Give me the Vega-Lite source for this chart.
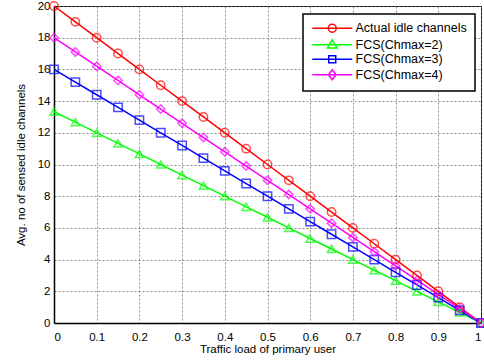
{
  "$schema": "https://vega.github.io/schema/vega-lite/v6.json",
  "width": 427,
  "height": 317,
  "autosize": "none",
  "padding": {"left": 54, "top": 6, "right": 3, "bottom": 40},
  "config": {
    "font": "Liberation Sans",
    "view": {"stroke": "black", "strokeWidth": 1},
    "axis": {
      "labelFont": "Liberation Sans",
      "titleFont": "Liberation Sans",
      "labelFontSize": 11.5,
      "titleFontSize": 11.5,
      "titleFontWeight": "normal",
      "labelColor": "black",
      "titleColor": "black",
      "domainColor": "black",
      "domainWidth": 1.5,
      "ticks": false,
      "gridColor": "#707070",
      "gridDash": [2, 2],
      "gridOpacity": 0.8
    }
  },
  "data": {
    "values": [
      {"x": 0, "s": "Actual idle channels", "y": 20},
      {"x": 0.05, "s": "Actual idle channels", "y": 19},
      {"x": 0.1, "s": "Actual idle channels", "y": 18},
      {"x": 0.15, "s": "Actual idle channels", "y": 17},
      {"x": 0.2, "s": "Actual idle channels", "y": 16},
      {"x": 0.25, "s": "Actual idle channels", "y": 15},
      {"x": 0.3, "s": "Actual idle channels", "y": 14},
      {"x": 0.35, "s": "Actual idle channels", "y": 13},
      {"x": 0.4, "s": "Actual idle channels", "y": 12},
      {"x": 0.45, "s": "Actual idle channels", "y": 11},
      {"x": 0.5, "s": "Actual idle channels", "y": 10},
      {"x": 0.55, "s": "Actual idle channels", "y": 9},
      {"x": 0.6, "s": "Actual idle channels", "y": 8},
      {"x": 0.65, "s": "Actual idle channels", "y": 7},
      {"x": 0.7, "s": "Actual idle channels", "y": 6},
      {"x": 0.75, "s": "Actual idle channels", "y": 5},
      {"x": 0.8, "s": "Actual idle channels", "y": 4},
      {"x": 0.85, "s": "Actual idle channels", "y": 3},
      {"x": 0.9, "s": "Actual idle channels", "y": 2},
      {"x": 0.95, "s": "Actual idle channels", "y": 1},
      {"x": 1, "s": "Actual idle channels", "y": 0},
      {"x": 0, "s": "FCS(Chmax=2)", "y": 13.33},
      {"x": 0.05, "s": "FCS(Chmax=2)", "y": 12.67},
      {"x": 0.1, "s": "FCS(Chmax=2)", "y": 12},
      {"x": 0.15, "s": "FCS(Chmax=2)", "y": 11.33},
      {"x": 0.2, "s": "FCS(Chmax=2)", "y": 10.67},
      {"x": 0.25, "s": "FCS(Chmax=2)", "y": 10},
      {"x": 0.3, "s": "FCS(Chmax=2)", "y": 9.33},
      {"x": 0.35, "s": "FCS(Chmax=2)", "y": 8.67},
      {"x": 0.4, "s": "FCS(Chmax=2)", "y": 8},
      {"x": 0.45, "s": "FCS(Chmax=2)", "y": 7.33},
      {"x": 0.5, "s": "FCS(Chmax=2)", "y": 6.67},
      {"x": 0.55, "s": "FCS(Chmax=2)", "y": 6},
      {"x": 0.6, "s": "FCS(Chmax=2)", "y": 5.33},
      {"x": 0.65, "s": "FCS(Chmax=2)", "y": 4.67},
      {"x": 0.7, "s": "FCS(Chmax=2)", "y": 4},
      {"x": 0.75, "s": "FCS(Chmax=2)", "y": 3.33},
      {"x": 0.8, "s": "FCS(Chmax=2)", "y": 2.67},
      {"x": 0.85, "s": "FCS(Chmax=2)", "y": 2},
      {"x": 0.9, "s": "FCS(Chmax=2)", "y": 1.33},
      {"x": 0.95, "s": "FCS(Chmax=2)", "y": 0.67},
      {"x": 1, "s": "FCS(Chmax=2)", "y": 0},
      {"x": 0, "s": "FCS(Chmax=3)", "y": 16},
      {"x": 0.05, "s": "FCS(Chmax=3)", "y": 15.2},
      {"x": 0.1, "s": "FCS(Chmax=3)", "y": 14.4},
      {"x": 0.15, "s": "FCS(Chmax=3)", "y": 13.6},
      {"x": 0.2, "s": "FCS(Chmax=3)", "y": 12.8},
      {"x": 0.25, "s": "FCS(Chmax=3)", "y": 12},
      {"x": 0.3, "s": "FCS(Chmax=3)", "y": 11.2},
      {"x": 0.35, "s": "FCS(Chmax=3)", "y": 10.4},
      {"x": 0.4, "s": "FCS(Chmax=3)", "y": 9.6},
      {"x": 0.45, "s": "FCS(Chmax=3)", "y": 8.8},
      {"x": 0.5, "s": "FCS(Chmax=3)", "y": 8},
      {"x": 0.55, "s": "FCS(Chmax=3)", "y": 7.2},
      {"x": 0.6, "s": "FCS(Chmax=3)", "y": 6.4},
      {"x": 0.65, "s": "FCS(Chmax=3)", "y": 5.6},
      {"x": 0.7, "s": "FCS(Chmax=3)", "y": 4.8},
      {"x": 0.75, "s": "FCS(Chmax=3)", "y": 4},
      {"x": 0.8, "s": "FCS(Chmax=3)", "y": 3.2},
      {"x": 0.85, "s": "FCS(Chmax=3)", "y": 2.4},
      {"x": 0.9, "s": "FCS(Chmax=3)", "y": 1.6},
      {"x": 0.95, "s": "FCS(Chmax=3)", "y": 0.8},
      {"x": 1, "s": "FCS(Chmax=3)", "y": 0},
      {"x": 0, "s": "FCS(Chmax=4)", "y": 18},
      {"x": 0.05, "s": "FCS(Chmax=4)", "y": 17.1},
      {"x": 0.1, "s": "FCS(Chmax=4)", "y": 16.2},
      {"x": 0.15, "s": "FCS(Chmax=4)", "y": 15.3},
      {"x": 0.2, "s": "FCS(Chmax=4)", "y": 14.4},
      {"x": 0.25, "s": "FCS(Chmax=4)", "y": 13.5},
      {"x": 0.3, "s": "FCS(Chmax=4)", "y": 12.6},
      {"x": 0.35, "s": "FCS(Chmax=4)", "y": 11.7},
      {"x": 0.4, "s": "FCS(Chmax=4)", "y": 10.8},
      {"x": 0.45, "s": "FCS(Chmax=4)", "y": 9.9},
      {"x": 0.5, "s": "FCS(Chmax=4)", "y": 9},
      {"x": 0.55, "s": "FCS(Chmax=4)", "y": 8.1},
      {"x": 0.6, "s": "FCS(Chmax=4)", "y": 7.2},
      {"x": 0.65, "s": "FCS(Chmax=4)", "y": 6.3},
      {"x": 0.7, "s": "FCS(Chmax=4)", "y": 5.4},
      {"x": 0.75, "s": "FCS(Chmax=4)", "y": 4.5},
      {"x": 0.8, "s": "FCS(Chmax=4)", "y": 3.6},
      {"x": 0.85, "s": "FCS(Chmax=4)", "y": 2.7},
      {"x": 0.9, "s": "FCS(Chmax=4)", "y": 1.8},
      {"x": 0.95, "s": "FCS(Chmax=4)", "y": 0.9},
      {"x": 1, "s": "FCS(Chmax=4)", "y": 0}
    ]
  },
  "encoding": {
    "x": {
      "field": "x", "type": "quantitative",
      "scale": {"domain": [0, 1], "nice": false},
      "axis": {"values": [0, 0.1, 0.2, 0.3, 0.4, 0.5, 0.6, 0.7, 0.8, 0.9, 1], "format": "~g", "title": "Traffic load of primary user", "titlePadding": 1, "labelPadding": 8}
    },
    "y": {
      "field": "y", "type": "quantitative",
      "scale": {"domain": [0, 20], "nice": false},
      "axis": {"values": [0, 2, 4, 6, 8, 10, 12, 14, 16, 18, 20], "title": "Avg. no of sensed idle channels", "titlePadding": 11, "labelPadding": 4}
    }
  },
  "layer": [
    {
      "mark": {"type": "line", "strokeWidth": 1.5},
      "encoding": {
        "color": {
          "field": "s", "type": "nominal",
          "scale": {
            "domain": ["Actual idle channels", "FCS(Chmax=2)", "FCS(Chmax=3)", "FCS(Chmax=4)"],
            "range": ["#ff0000", "#00ff00", "#0000ff", "#ff00ff"]
          },
          "legend": {
            "title": null,
            "orient": "none",
            "legendX": 249,
            "legendY": 8,
            "fillColor": "white",
            "strokeColor": "black",
            "padding": 8,
            "labelFontSize": 12.5,
            "labelFont": "Liberation Sans",
            "labelColor": "black",
            "symbolSize": 100,
            "symbolStrokeWidth": 1.5,
            "rowPadding": 0.5,
            "labelOffset": 32,
            "encode": {
              "legend": {"update": {"strokeWidth": {"value": 1.5}}},
              "symbols": {
                "update": {
                  "shape": {"signal": "datum.value === 'Actual idle channels' ? 'M-1,0L7,0M2.2,0A0.8,0.8 0 1,0 3.8,0A0.8,0.8 0 1,0 2.2,0' : datum.value === 'FCS(Chmax=2)' ? 'M-1,0L7,0M3,-1L3.95,0.65L2.05,0.65Z' : datum.value === 'FCS(Chmax=3)' ? 'M-1,0L7,0M2.3,-0.7L3.7,-0.7L3.7,0.7L2.3,0.7Z' : 'M-1,0L7,0M3,-1L3.75,0L3,1L2.25,0Z'"}
                }
              }
            }
          }
        }
      }
    },
    {
      "mark": {"type": "point", "filled": false, "size": 70, "strokeWidth": 1.5},
      "encoding": {
        "shape": {
          "condition": [
            {"test": "datum.s === 'FCS(Chmax=2)'", "value": "triangle-up"},
            {"test": "datum.s === 'FCS(Chmax=3)'", "value": "square"},
            {"test": "datum.s === 'FCS(Chmax=4)'", "value": "diamond"}
          ],
          "value": "circle"
        },
        "stroke": {
          "field": "s", "type": "nominal",
          "scale": {
            "domain": ["Actual idle channels", "FCS(Chmax=2)", "FCS(Chmax=3)", "FCS(Chmax=4)"],
            "range": ["#ff0000", "#00ff00", "#0000ff", "#ff00ff"]
          },
          "legend": null
        }
      }
    }
  ]
}
